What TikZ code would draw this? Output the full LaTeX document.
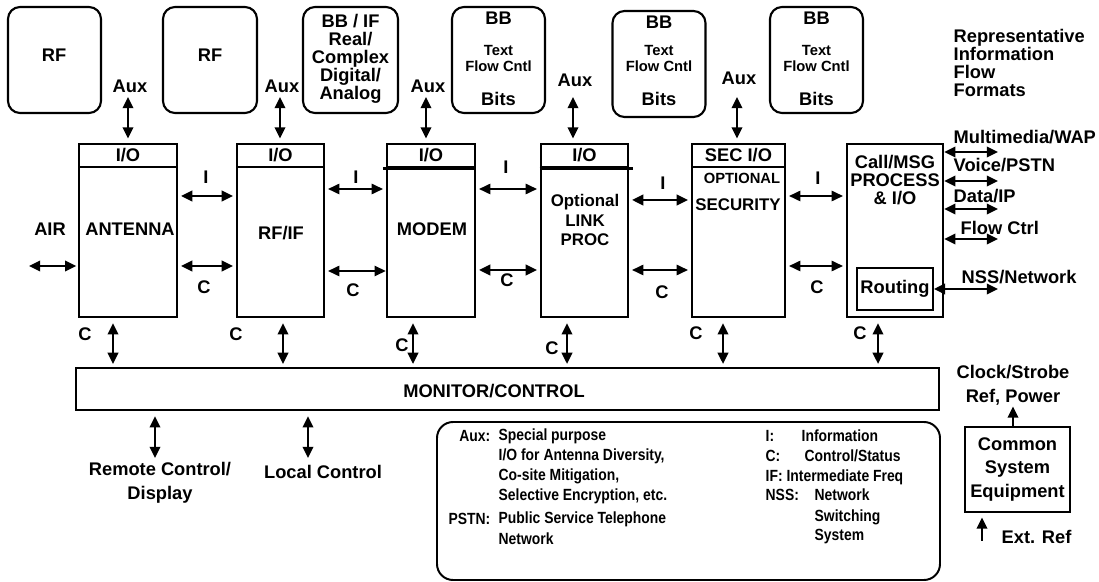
\documentclass[tikz,border=0pt]{standalone}
\usepackage{fontspec}
\setmainfont{Liberation Sans}
\newfontfamily\narrowsans[FakeStretch=0.86]{Liberation Sans}
\usetikzlibrary{arrows.meta,fit,positioning}

\newcommand\labf{\fontsize{13}{12.8}\selectfont\bfseries}
\newcommand\wlabf{\fontsize{13}{16.8}\selectfont\bfseries}
\newcommand\midf{\fontsize{12}{14.2}\selectfont\bfseries}
\newcommand\smlf{\fontsize{10.5}{10.7}\selectfont\bfseries}
\newcommand\legf{\narrowsans\fontsize{11.5}{14}\selectfont\bfseries}

\tikzset{
  blk/.style={draw, line width=1.8pt, inner sep=0pt},
  rbox/.style={draw, line width=1.5pt, rounded corners=0.3cm, inner sep=0pt},
  txt/.style={inner sep=1pt, font=\labf},
  legtxt/.style={inner sep=1pt, font=\legf, anchor=west},
  dar/.style={<->, >={Triangle[length=0.28cm,width=0.26cm]}, line width=1.6pt},
  darthin/.style={dar, line width=0.9pt},
  uar/.style={->, >={Triangle[length=0.28cm,width=0.26cm]}, line width=1.6pt},
  gap/.style={shorten <=2pt, shorten >=2pt},
}

\begin{document}
\begin{tikzpicture}[x=0.025cm, y=-0.025cm]
\path[fill=white] (0,0) rectangle (1099,582);

% information flow formats
\node[rbox, fit={(8,7) (101,113)}] (rfa) {};
\node[txt] (rfal) at (54,55) {RF};
\node[rbox, fit={(163,7) (257,113)}] (rfb) {};
\node[txt] (rfbl) at (210,55) {RF};
\node[rbox, fit={(303,7) (398,113)}] (bbif) {};
\node[txt, align=center] (bbifl) at (350.5,59) {BB / IF\\Real/\\Complex\\Digital/\\Analog};
\foreach \n/\x/\dy in {bba/498.5/0, bbb/659/4, bbc/816.5/0}{
  \node[rbox, fit={(\x-46.5,7+\dy) (\x+46.5,113+\dy)}] (\n) {};
  \node[txt] (\n-bb) at (\x,18+\dy) {BB};
  \node[txt, font=\smlf, align=center] (\n-txt) at (\x,58.5) {Text\\Flow Cntl};
  \node[txt] (\n-bits) at (\x,99) {Bits};
}
\node[txt, align=left, anchor=west] (rep) at (952,63) {Representative\\Information\\Flow\\Formats};

% processing blocks
\node[blk, fit={(79,144) (177,317)}] (ant) {};
\node[blk, fit={(79,144) (177,167)}] (antio) {};
\node[txt] (antiol) at (antio) {I/O};
\node[txt] (antl) at (130,229) {ANTENNA};
\node[txt] (air) at (50,229) {AIR};
\node[blk, fit={(237,144) (324,317)}] (rfif) {};
\node[blk, fit={(237,144) (324,167)}] (rfio) {};
\node[txt] (rfiol) at (rfio) {I/O};
\node[txt] (rfifl) at (281,233) {RF/IF};
\node[blk, fit={(387,144) (475,317)}] (mod) {};
\node[blk, fit={(387,144) (475,167)}] (modio) {};
\draw[line width=2.4pt] ([xshift=-2pt]modio.south west) -- (modio.south east);
\node[txt] (modiol) at (modio) {I/O};
\node[txt] (modl) at (432,229) {MODEM};
\node[blk, fit={(541,144) (628,317)}] (lnk) {};
\node[blk, fit={(541,144) (628,167)}] (lnkio) {};
\draw[line width=1.8pt] (lnkio.south west) -- ([xshift=3pt]lnkio.south east);
\node[txt] (lnkiol) at (lnkio) {I/O};
\node[txt, font=\midf, align=center] (lnkl) at (585,220) {Optional\\LINK\\PROC};
\node[blk, fit={(692,144) (785,317)}] (sec) {};
\node[blk, fit={(692,144) (785,167)}] (secio) {};
\node[txt] (seciol) at (secio) {SEC I/O};
\node[txt, font=\smlf] (secopt) at (742,178) {OPTIONAL};
\node[txt, font=\midf] (secl) at (738,205) {SECURITY};
\node[blk, fit={(847,144) (943,317)}] (call) {};
\node[txt, align=center] (calll) at (895,180) {Call/MSG\\PROCESS\\\& I/O};
\node[blk, line width=1.2pt, fit={(857,268) (933,310)}] (rout) {};
\node[txt] (routl) at (rout) {Routing};

% aux ports
\foreach \b/\x/\ly in {antio/128/86, rfio/280/86, modio/426/86, lnkio/573/80, secio/737/78}{
  \node[txt] (aux-\b) at (\x+2,\ly) {Aux};
  \coordinate (a-\b) at (\x,97);
  \draw[dar, shorten >=3pt] (a-\b) -- (a-\b |- \b.north);
}

% air interface
\coordinate (airend) at (29,266);
\draw[dar, shorten >=1pt] (airend) -- (ant.west |- airend);

% information and control between blocks
\draw[dar, gap] (ant.east |- 0,196) -- (rfif.west |- 0,196);
\draw[dar, gap] (ant.east |- 0,266) -- (rfif.west |- 0,266);
\draw[darthin, gap] (rfif.east |- 0,189) -- (mod.west |- 0,189);
\draw[darthin, shorten <=2pt] (rfif.east |- 0,271) -- (mod.west |- 0,271);
\draw[darthin, gap] (mod.east |- 0,189) -- (lnk.west |- 0,189);
\draw[dar, gap] (mod.east |- 0,270) -- (lnk.west |- 0,270);
\draw[dar, gap] (lnk.east |- 0,200) -- (sec.west |- 0,200);
\draw[darthin, gap] (lnk.east |- 0,270) -- (sec.west |- 0,270);
\draw[darthin, gap] (sec.east |- 0,196) -- (call.west |- 0,196);
\draw[darthin, gap] (sec.east |- 0,266) -- (call.west |- 0,266);
\foreach \n/\x/\y in {ia/206/177, ib/356/177, ic/506/167, id/663/183, ie/818/178}
  \node[txt] (\n) at (\x,\y) {I};
\foreach \n/\x/\y in {ca/204/287, cb/353/290, cc/507/280, cd/662/292, ce/817/287}
  \node[txt] (\n) at (\x,\y) {C};

% external interfaces
\node[txt, anchor=west] (mm) at (952,137) {Multimedia/WAP};
\node[txt, anchor=west] (vo) at (952,165) {Voice/PSTN};
\node[txt, anchor=west] (dt) at (952,196) {Data/IP};
\node[txt, anchor=west] (fc) at (959,228) {Flow Ctrl};
\node[txt, anchor=west] (nss) at (960,277) {NSS/Network};
\coordinate (mmend) at (998,152);
\coordinate (voend) at (998,181);
\coordinate (dtend) at (998,209);
\coordinate (fcend) at (998,239);
\coordinate (nssend) at (998,289);
\draw[dar] (call.east |- mmend) -- (mmend);
\draw[dar] (call.east |- voend) -- (voend);
\draw[dar] (call.east |- dtend) -- (dtend);
\draw[dar] (call.east |- fcend) -- (fcend);
\draw[dar] (rout.east |- nssend) -- (nssend);

% monitor / control
\node[blk, fit={(76,368) (939,410)}] (mon) {};
\node[txt] (monl) at (494,391) {MONITOR/CONTROL};
\foreach \b/\x in {ant/113, rfif/283, mod/413, lnk/567, sec/723, call/878}
  \draw[dar, shorten <=3.5pt, shorten >=2pt] (\b.south -| \x,0) -- (mon.north -| \x,0);
\foreach \n/\x/\y in {cf/85/334, cg/236/334, ch/402/345, ci/552/348, cj/696/333, ck/860/333}
  \node[txt] (\n) at (\x,\y) {C};
\node[txt, align=center, font=\wlabf] (rem) at (160,483) {Remote Control/\\Display};
\node[txt] (loc) at (323,472) {Local Control};
\coordinate (remend) at (155,458);
\coordinate (locend) at (308,458);
\draw[dar, shorten <=3.5pt] (mon.south -| remend) -- (remend);
\draw[dar, shorten <=3.5pt] (mon.south -| locend) -- (locend);

% legend
\node[rbox, line width=1.4pt, rounded corners=0.4cm, fit={(437,422) (940,580)}] (leg) {};
\node[legtxt, anchor=east] (kaux) at (492,436) {Aux:};
\node[legtxt] (kaux1) at (497,436) {Special purpose};
\node[legtxt] (kaux2) at (497,456) {I/O for Antenna Diversity,};
\node[legtxt] (kaux3) at (497,476) {Co-site Mitigation,};
\node[legtxt] (kaux4) at (497,496) {Selective Encryption, etc.};
\node[legtxt, anchor=east] (kpstn) at (492,519) {PSTN:};
\node[legtxt] (kpstn1) at (497,519) {Public Service Telephone};
\node[legtxt] (kpstn2) at (497,539) {Network};
\node[legtxt] (ki) at (764,436) {I:};
\node[legtxt] (ki1) at (800,436) {Information};
\node[legtxt] (kc) at (764,456) {C:};
\node[legtxt] (kc1) at (803,456) {Control/Status};
\node[legtxt] (kif) at (764,477) {IF: Intermediate Freq};
\node[legtxt] (knss) at (764,495) {NSS:};
\node[legtxt] (knss1) at (813,495) {Network};
\node[legtxt] (knss2) at (813,517) {Switching};
\node[legtxt] (knss3) at (813,537) {System};

% common equipment
\node[blk, fit={(965,427) (1070,512)}] (cse) {};
\node[txt, align=center, font=\wlabf] (csel) at (cse) {Common\\System\\Equipment};
\node[txt, align=center, font=\wlabf] (clk) at (1013,385) {Clock/Strobe\\Ref, Power};
\draw[uar] (cse.north -| clk.south) -- (clk.south);
\node[txt, anchor=west] (ext) at (1000,537) {Ext. Ref};
\coordinate (extin) at (982,541);
\draw[uar, shorten >=3pt] (extin) -- (extin |- cse.south);
\end{tikzpicture}
\end{document}
